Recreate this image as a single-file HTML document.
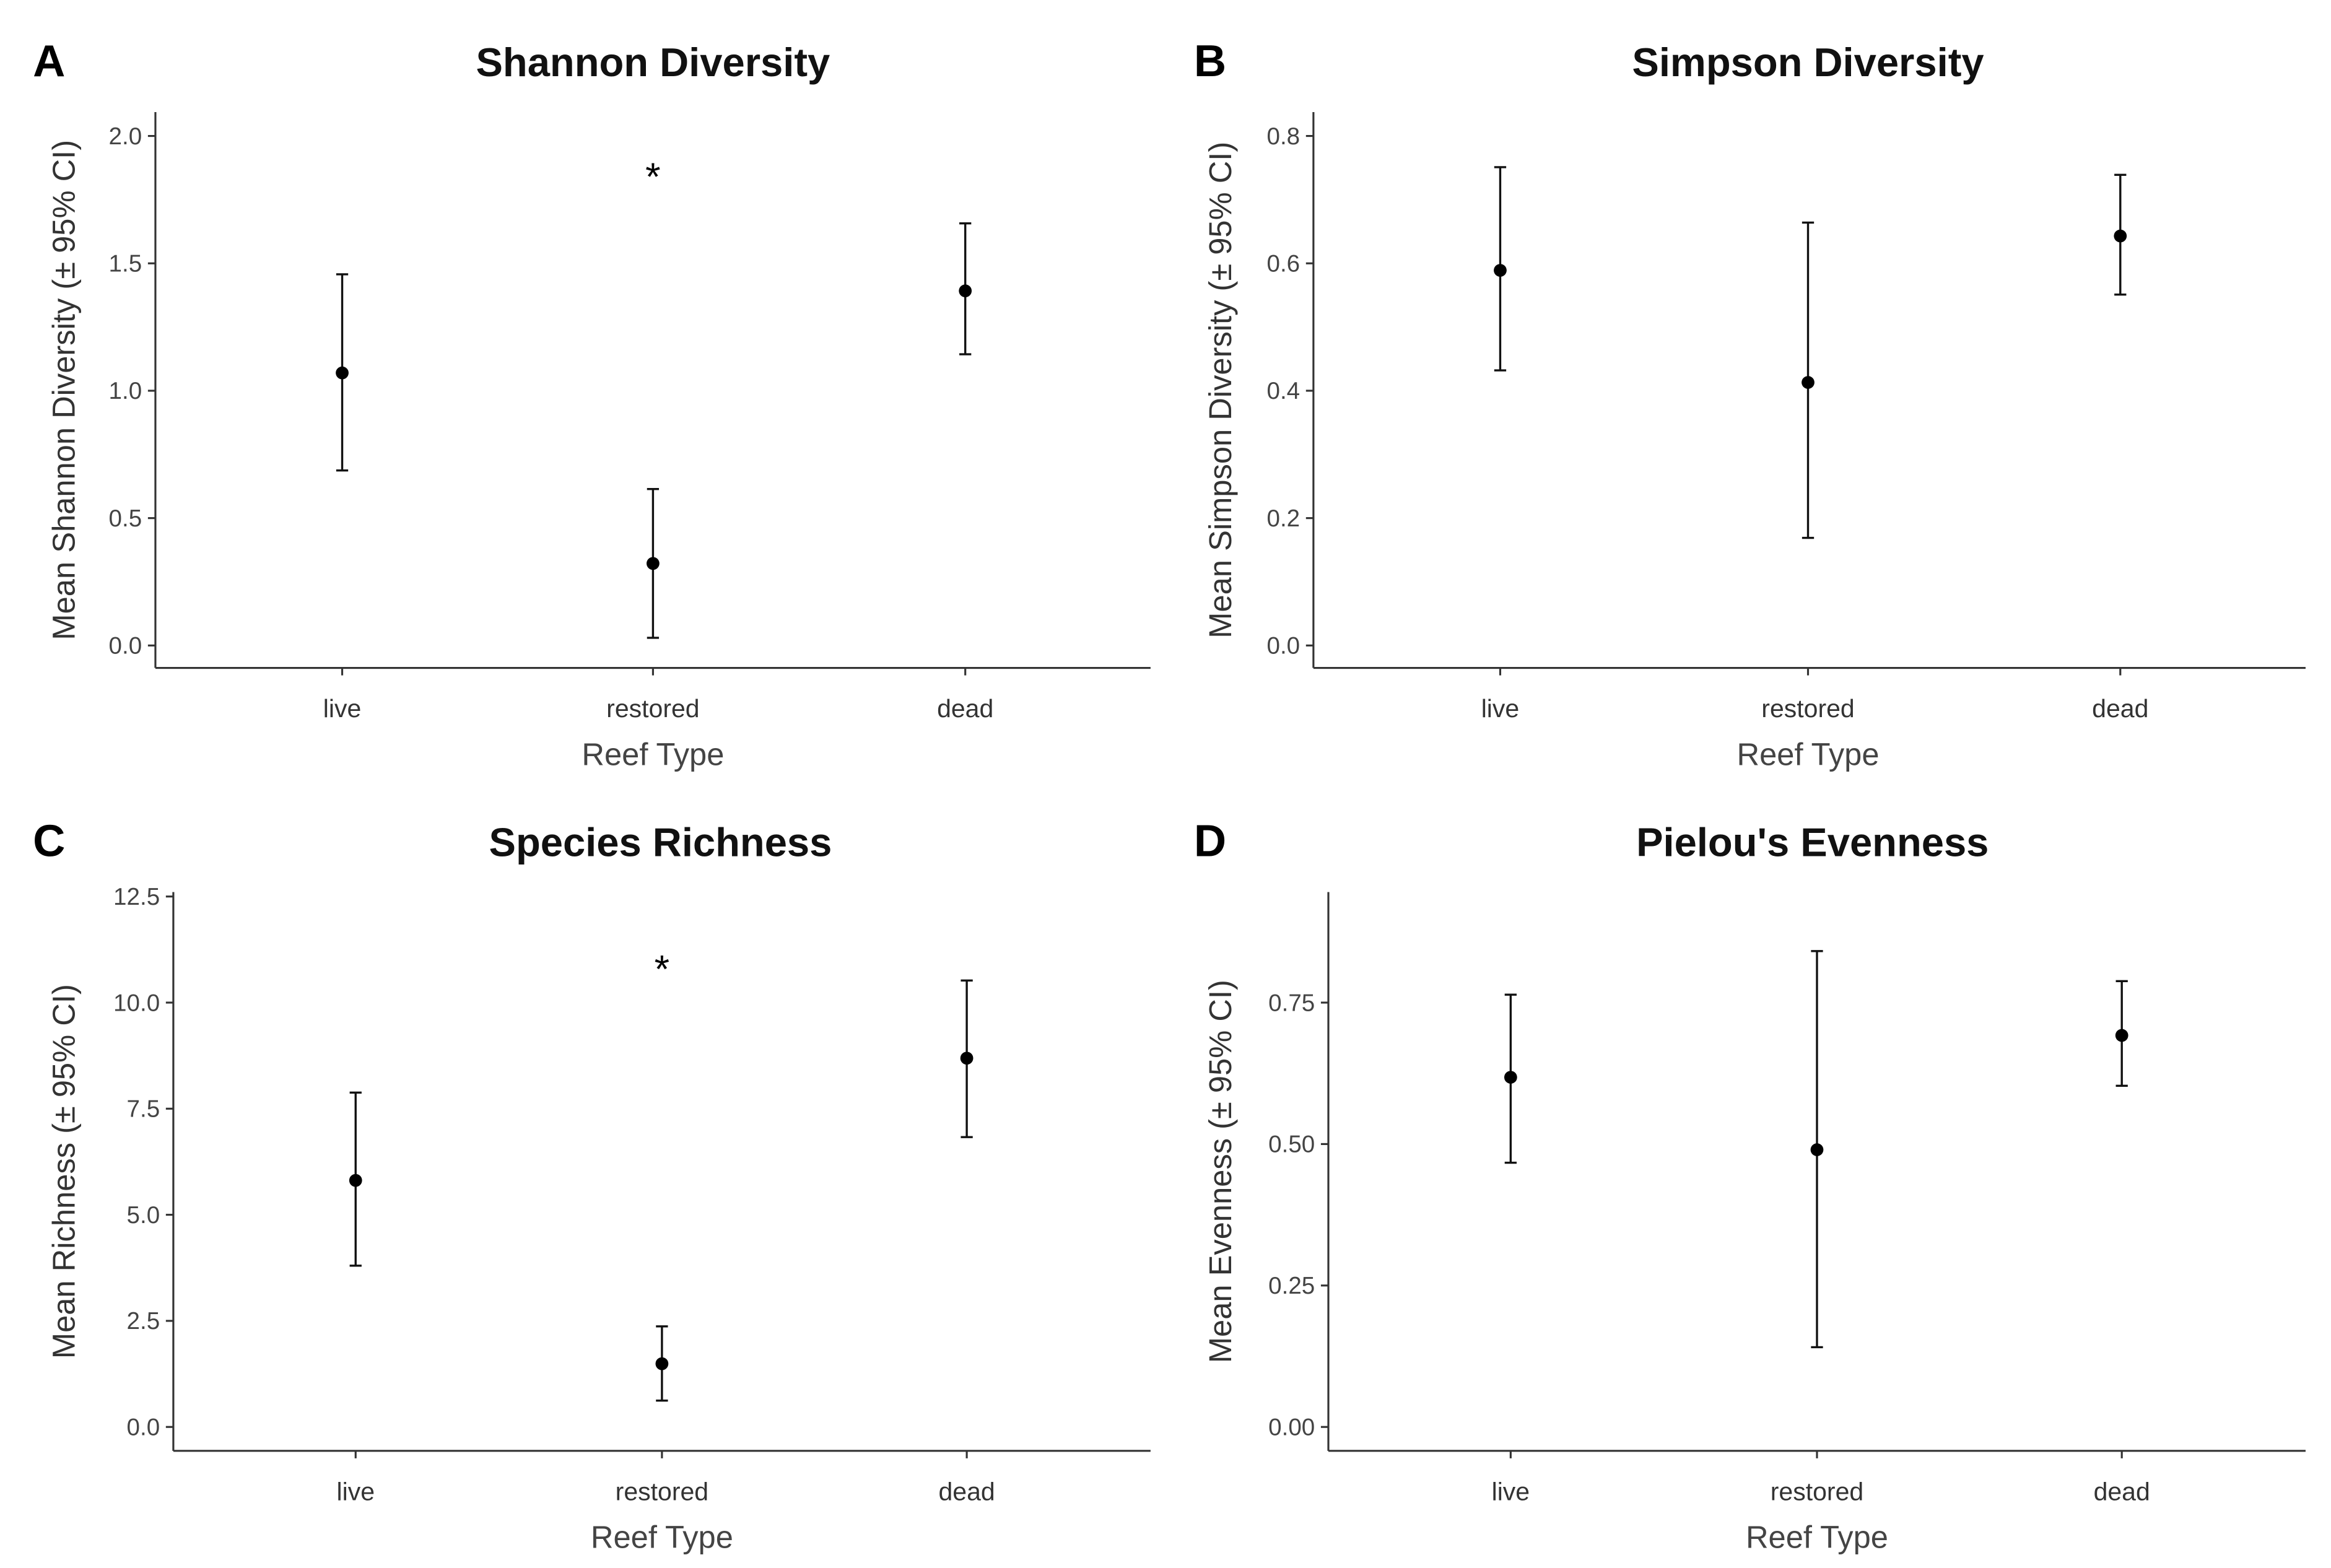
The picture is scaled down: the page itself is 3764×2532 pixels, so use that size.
<!DOCTYPE html>
<html><head><meta charset="utf-8"><style>
html,body{margin:0;padding:0;background:#fff;}
svg{display:block;font-family:"Liberation Sans",sans-serif;}
</style></head><body>
<svg id="fig" width="3764" height="2532" viewBox="0 0 1560 1049.4" xmlns="http://www.w3.org/2000/svg"></svg>
<script>
const categories = ["live","restored","dead"];
const shannonMean = [1.07, 0.322, 1.392];
const shannonLo = [0.687, 0.03, 1.143];
const shannonHi = [1.457, 0.614, 1.657];
const shannonTicks = [0, 0.5, 1.0, 1.5, 2.0];
const shannonTickLabels = ["0.0","0.5","1.0","1.5","2.0"];
const simpsonMean = [0.589, 0.413, 0.643];
const simpsonLo = [0.432, 0.169, 0.551];
const simpsonHi = [0.751, 0.664, 0.739];
const simpsonTicks = [0, 0.2, 0.4, 0.6, 0.8];
const simpsonTickLabels = ["0.0","0.2","0.4","0.6","0.8"];
const richMean = [5.81, 1.49, 8.69];
const richLo = [3.80, 0.62, 6.83];
const richHi = [7.88, 2.37, 10.52];
const richTicks = [0, 2.5, 5.0, 7.5, 10.0, 12.5];
const richTickLabels = ["0.0","2.5","5.0","7.5","10.0","12.5"];
const evenMean = [0.618, 0.49, 0.692];
const evenLo = [0.467, 0.141, 0.603];
const evenHi = [0.764, 0.841, 0.788];
const evenTicks = [0, 0.25, 0.5, 0.75];
const evenTickLabels = ["0.00","0.25","0.50","0.75"];

const NS = "http://www.w3.org/2000/svg";
const svg = document.getElementById("fig");
function mk(tag, attrs, parent, text){
  const e = document.createElementNS(NS, tag);
  for (const k in attrs) e.setAttribute(k, attrs[k]);
  if (text !== undefined) e.textContent = text;
  (parent||svg).appendChild(e);
  return e;
}
function panel(p){
  const g = mk("g", {});
  
  
  const y = v => p.y0 + (v - p.v0) * (p.y1 - p.y0) / (p.v1 - p.v0);
  const x = i => p.cx[i];
  const letter = mk("text", {x:p.lx, y:p.ly, "font-size":30, "font-weight":"bold", fill:"#000"}, g, p.letter);
  
  
  const title = mk("text", {x:p.tx, y:p.ty, "font-size":27, "font-weight":"bold", "text-anchor":"middle", fill:"#111"}, g, p.title);
  
  
  const ya = mk("line", {x1:p.ax, y1:p.top, x2:p.ax, y2:p.bottom, stroke:"#333", "stroke-width":1.3}, g);
  
  
  const xa = mk("line", {x1:p.ax, y1:p.bottom, x2:p.right, y2:p.bottom, stroke:"#333", "stroke-width":1.3}, g);
  
  
  p.ticks.forEach((t, i) => {
    const yy = y(t);
    const tk = mk("line", {x1:p.ax-5, y1:yy, x2:p.ax, y2:yy, stroke:"#333", "stroke-width":1.3}, g);
    
    
    const tl = mk("text", {x:p.ax-9, y:yy+5.5, "font-size":16, "text-anchor":"end", fill:"#444"}, g, p.tickLabels[i]);
    
    
  });
  categories.forEach((c, i) => {
    const tk = mk("line", {x1:x(i), y1:p.bottom, x2:x(i), y2:p.bottom+5, stroke:"#333", "stroke-width":1.3}, g);
    
    
    const tl = mk("text", {x:x(i), y:p.bottom+33, "font-size":17, "text-anchor":"middle", fill:"#333"}, g, c);
    
    
    const eb = mk("g", {stroke:"#111", "stroke-width":1.4}, g);
    
    
    mk("line", {x1:x(i), y1:y(p.lo[i]), x2:x(i), y2:y(p.hi[i])}, eb);
    mk("line", {x1:x(i)-4, y1:y(p.lo[i]), x2:x(i)+4, y2:y(p.lo[i])}, eb);
    mk("line", {x1:x(i)-4, y1:y(p.hi[i]), x2:x(i)+4, y2:y(p.hi[i])}, eb);
    const pt = mk("circle", {cx:x(i), cy:y(p.mean[i]), r:4.3, fill:"#000"}, g);
    
    
  });
  if (p.star !== undefined) {
    const st = mk("text", {x:x(1), y:y(p.star)+14, "font-size":26, "text-anchor":"middle", fill:"#000"}, g, "*");
    
    
  }
  const xt = mk("text", {x:x(1), y:p.bottom+65, "font-size":21, "text-anchor":"middle", fill:"#444"}, g, "Reef Type");
  
  
  const yt = mk("text", {x:0, y:0, "font-size":21, "text-anchor":"middle", fill:"#333",
    transform:"translate(" + p.ylx + "," + ((p.top+p.bottom)/2) + ") rotate(-90)"}, g, p.ylabel);
  
  
}
panel({name:"panel-a-shannon", letter:"A", lx:22, ly:51, title:"Shannon Diversity", tx:437, ty:51,
  ax:104, top:75, bottom:447, right:770, cx:[229,437,646], v0:0, y0:432, v1:2.0, y1:91,
  ticks:shannonTicks, tickLabels:shannonTickLabels, mean:shannonMean, lo:shannonLo, hi:shannonHi,
  star:1.87, ylx:50, ylabel:"Mean Shannon Diversity (\u00b1 95% CI)"});
panel({name:"panel-b-simpson", letter:"B", lx:799, ly:51, title:"Simpson Diversity", tx:1210, ty:51,
  ax:879, top:75, bottom:447, right:1543, cx:[1004,1210,1419], v0:0, y0:432, v1:0.8, y1:91,
  ticks:simpsonTicks, tickLabels:simpsonTickLabels, mean:simpsonMean, lo:simpsonLo, hi:simpsonHi,
  ylx:824, ylabel:"Mean Simpson Diversity (\u00b1 95% CI)"});
panel({name:"panel-c-richness", letter:"C", lx:22, ly:573, title:"Species Richness", tx:442, ty:573,
  ax:116, top:597, bottom:971, right:770, cx:[238,443,647], v0:0, y0:955, v1:12.5, y1:600,
  ticks:richTicks, tickLabels:richTickLabels, mean:richMean, lo:richLo, hi:richHi,
  star:10.97, ylx:50, ylabel:"Mean Richness (\u00b1 95% CI)"});
panel({name:"panel-d-evenness", letter:"D", lx:799, ly:573, title:"Pielou's Evenness", tx:1213, ty:573,
  ax:889, top:597, bottom:971, right:1543, cx:[1011,1216,1420], v0:0, y0:955, v1:0.75, y1:671,
  ticks:evenTicks, tickLabels:evenTickLabels, mean:evenMean, lo:evenLo, hi:evenHi,
  ylx:824, ylabel:"Mean Evenness (\u00b1 95% CI)"});
</script>
</body></html>
